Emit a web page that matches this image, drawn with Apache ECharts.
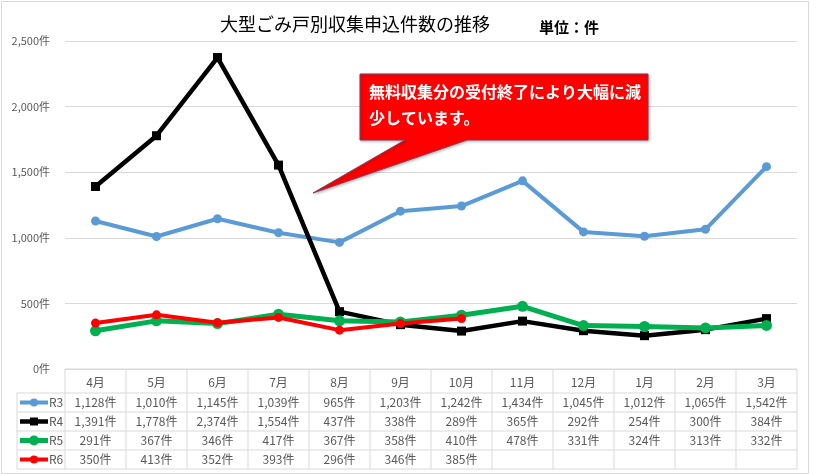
<!DOCTYPE html>
<html><head><meta charset="utf-8">
<script src="https://cdn.jsdelivr.net/npm/echarts@6/dist/echarts.min.js"></script>
<style>html,body{margin:0;padding:0;background:#fff}#c{width:820px;height:474px}</style>
</head><body><div id="c"></div>
<script>
const months = ['4月','5月','6月','7月','8月','9月','10月','11月','12月','1月','2月','3月'];
const r3 = [1128,1010,1145,1039,965,1203,1242,1434,1045,1012,1065,1542];
const r4 = [1391,1778,2374,1554,437,338,289,365,292,254,300,384];
const r5 = [291,367,346,417,367,358,410,478,331,324,313,332];
const r6 = [350,413,352,393,296,346,385,null,null,null,null,null];
const seriesNames = ['R3','R4','R5','R6'];
const seriesData = [r3, r4, r5, r6];
const colors = ['#5b9bd5','#000000','#00b050','#ff0000'];
const symbols = ['circle','rect','circle','circle'];
const symbolSizes = [9,9,11,9];
const lineWidths = [4,4.5,5,4];
const yMin = 0, yMax = 2500, yStep = 500;
const titleText = '大型ごみ戸別収集申込件数の推移';
const unitText = '単位：件';
const calloutLines = ['無料収集分の受付終了により大幅に減','少しています。'];

const FONT = '"Noto Sans CJK JP", "Noto Sans", sans-serif';
const fmt = v => (v == null ? '' : v.toLocaleString('en-US') + '件');

const chart = echarts.init(document.getElementById('c'));
const option = {
  animation: false,
  backgroundColor: '#fff',
  textStyle: {fontFamily: FONT},
  title: {text: titleText, left: 215, top: 10,
    textStyle: {fontSize: 18, fontWeight: 'normal', color: '#000', fontFamily: FONT}},
  grid: {left: 65, right: 23, top: 41, bottom: 105},
  xAxis: {type: 'category', data: months, boundaryGap: true,
    axisLine: {show: false}, axisTick: {show: false}, axisLabel: {show: false}},
  yAxis: {type: 'value', min: yMin, max: yMax, interval: yStep,
    axisLine: {show: false}, axisTick: {show: false},
    axisLabel: {formatter: v => v.toLocaleString('en-US') + '件', color: '#595959', fontSize: 11, margin: 15, fontFamily: FONT},
    splitLine: {lineStyle: {color: '#d9d9d9', width: 1}}},
  series: seriesNames.map((n, i) => ({
    name: n, type: 'line', data: seriesData[i],
    symbol: symbols[i], symbolSize: symbolSizes[i], showSymbol: true,
    lineStyle: {color: colors[i], width: lineWidths[i]},
    itemStyle: {color: colors[i]}, z: 2 + i
  }))
};
chart.setOption(option);

// Build data table and annotations
const xs = months.map((m, i) => chart.convertToPixel({xAxisIndex: 0}, i));
const colW = xs[1] - xs[0];
const tLeft = xs[0] - colW / 2;
const tRight = xs[xs.length - 1] + colW / 2;
const y0 = chart.convertToPixel({yAxisIndex: 0}, 0);
const headerH = 24, rowH = 19;
const legLeft = 17;
const lineColor = '#d9d9d9';
const g = [];
const hline = (x1, x2, y) => g.push({type: 'line', shape: {x1, y1: y, x2, y2: y}, style: {stroke: lineColor, lineWidth: 1}, silent: true});
const vline = (x, y1, y2) => g.push({type: 'line', shape: {x1: x, y1, x2: x, y2}, style: {stroke: lineColor, lineWidth: 1}, silent: true});
const tableBottom = y0 + headerH + rowH * seriesNames.length;
hline(tLeft, tRight, y0);
for (let r = 0; r <= seriesNames.length; r++) hline(legLeft, tRight, y0 + headerH + rowH * r);
vline(legLeft, y0 + headerH, tableBottom);
for (let c = 0; c <= months.length; c++) vline(tLeft + colW * c, y0, tableBottom);
const txt = (text, x, y, align, extra) => g.push({type: 'text', x, y, silent: true,
  style: Object.assign({text, fill: '#595959', fontSize: 12, fontFamily: FONT, textAlign: align, textVerticalAlign: 'middle'}, extra || {})});
months.forEach((m, i) => txt(m, xs[i], y0 + headerH / 2 + 1, 'center'));
seriesNames.forEach((n, r) => {
  const cy = y0 + headerH + rowH * r + rowH / 2;
  g.push({type: 'line', shape: {x1: legLeft + 3, y1: cy, x2: legLeft + 31, y2: cy}, style: {stroke: colors[r], lineWidth: lineWidths[r]}, silent: true});
  const mx = legLeft + 17, ms = symbolSizes[r] - 1;
  if (symbols[r] === 'rect') g.push({type: 'rect', shape: {x: mx - ms / 2, y: cy - ms / 2, width: ms, height: ms}, style: {fill: colors[r]}, silent: true});
  else g.push({type: 'circle', shape: {cx: mx, cy, r: ms / 2}, style: {fill: colors[r]}, silent: true});
  txt(n, legLeft + 32, cy, 'left');
  seriesData[r].forEach((v, i) => txt(fmt(v), xs[i], cy, 'center'));
});
// unit label
txt(unitText, 539, 27, 'left', {fill: '#000', fontSize: 15, fontWeight: 'bold'});
// callout
g.push({type: 'polygon', silent: true, z: 20,
  shape: {points: [[360,74],[648,74],[648,140],[467,140],[313,193],[405,140],[360,140]]},
  style: {fill: '#ff0000', stroke: '#7f3f5f', lineWidth: 1, shadowBlur: 3, shadowColor: 'rgba(0,0,0,0.3)', shadowOffsetX: 1, shadowOffsetY: 1}});
calloutLines.forEach((l, k) => g.push({type: 'text', x: 369, y: 92 + 26 * k, z: 21, silent: true,
  style: {text: l, fill: '#fff', fontSize: 16, fontWeight: 'bold', fontFamily: FONT, textVerticalAlign: 'middle'}}));
// outer border
g.push({type: 'rect', shape: {x: 1.5, y: 1.5, width: 807, height: 472}, style: {fill: 'none', stroke: '#d9d9d9', lineWidth: 1}, silent: true});
chart.setOption({graphic: g});
</script></body></html>
